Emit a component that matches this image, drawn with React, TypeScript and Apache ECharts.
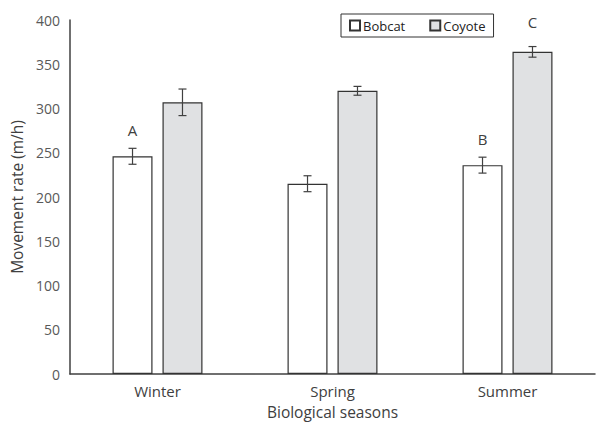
import React, { useEffect, useRef } from "react";
import * as echarts from "echarts";

const categories = ["Winter", "Spring", "Summer"];
const bobcat = [246, 215, 236];
const coyote = [307, 320, 364];
const bobcatErr = [9, 9, 9];
const coyoteErr = [15, 5, 6];
const bobcatLetters = ["A", "", "B"];
const coyoteLetters = ["", "", "C"];

const FONT = "Open Sans";
const GAP_CAT = 0.486;
const GAP_BAR = 0.25;

function errSeries(name: string, values: number[], errs: number[], letters: string[], side: number, letterGap: number) {
  return {
    type: "custom",
    name: name + "-err",
    silent: true,
    z: 5,
    data: values.map((v, i) => [i, v, errs[i]]),
    renderItem: (params: any, api: any) => {
      const i = api.value(0);
      const v = api.value(1);
      const e = api.value(2);
      const letter = letters[i];
      const band = api.size([1, 0])[0];
      const w = (band * (1 - GAP_CAT)) / (2 + GAP_BAR);
      const off = side * (w * (1 + GAP_BAR)) / 2;
      const c = api.coord([i, v]);
      const x = c[0] + off;
      const top = api.coord([i, v + e])[1];
      const bot = api.coord([i, v - e])[1];
      const st = { stroke: "#404040", lineWidth: 1.2 };
      const children: any[] = [
        { type: "line", shape: { x1: x, y1: top, x2: x, y2: bot }, style: st },
        { type: "line", shape: { x1: x - 4, y1: top, x2: x + 4, y2: top }, style: st },
        { type: "line", shape: { x1: x - 4, y1: bot, x2: x + 4, y2: bot }, style: st },
      ];
      if (letter) {
        children.push({
          type: "text",
          style: {
            text: letter,
            x: x,
            y: top - letterGap,
            align: "center",
            verticalAlign: "middle",
            fill: "#404040",
            font: `15px "${FONT}"`,
          },
        });
      }
      return { type: "group", children };
    },
  };
}

export default function App() {
  const ref = useRef<HTMLDivElement>(null);
  useEffect(() => {
    if (!ref.current) return;
    document.body.style.margin = "0";
    const chart = echarts.init(ref.current, null, { renderer: "svg" });
    chart.setOption({
      animation: false,
      textStyle: { fontFamily: FONT },
      grid: { left: 70, right: 2, top: 20, bottom: 48, containLabel: false, outerBoundsMode: "none" },
      legend: {
        left: 341,
        top: 14,
        width: 152,
        padding: [5, 8, 5, 8],
        itemGap: 24,
        itemWidth: 10,
        itemHeight: 10,
        icon: "rect",
        borderColor: "#333",
        borderWidth: 1,
        textStyle: { fontFamily: FONT, fontSize: 13, color: "#222", padding: [0, 0, 0, -2] },
        data: ["Bobcat", "Coyote"],
      },
      xAxis: {
        type: "category",
        data: categories,
        name: "Biological seasons",
        nameLocation: "middle",
        nameGap: 30,
        nameTextStyle: { fontFamily: FONT, fontSize: 15.5, color: "#404040" },
        axisLine: { lineStyle: { color: "#404040", width: 1.5 } },
        axisTick: { show: false },
        axisLabel: { fontFamily: FONT, fontSize: 15, color: "#404040", margin: 9 },
      },
      yAxis: {
        type: "value",
        min: 0,
        max: 400,
        interval: 50,
        name: "Movement rate (m/h)",
        nameLocation: "middle",
        nameGap: 44,
        nameTextStyle: { fontFamily: FONT, fontSize: 15.5, color: "#404040" },
        axisLine: { show: true, lineStyle: { color: "#404040", width: 1.5 } },
        axisTick: { show: false },
        splitLine: { show: false },
        axisLabel: { fontFamily: FONT, fontSize: 14, color: "#595959", margin: 10 },
      },
      series: [
        {
          type: "bar",
          name: "Bobcat",
          data: bobcat,
          barCategoryGap: GAP_CAT * 100 + "%",
          barGap: GAP_BAR * 100 + "%",
          itemStyle: { color: "#ffffff", borderColor: "#333333", borderWidth: 1.2 },
        },
        {
          type: "bar",
          name: "Coyote",
          data: coyote,
          barCategoryGap: GAP_CAT * 100 + "%",
          barGap: GAP_BAR * 100 + "%",
          itemStyle: { color: "#e0e1e3", borderColor: "#333333", borderWidth: 1.2 },
        },
        errSeries("Bobcat", bobcat, bobcatErr, bobcatLetters, -1, 18),
        errSeries("Coyote", coyote, coyoteErr, coyoteLetters, 1, 25),
      ],
    });
    return () => chart.dispose();
  }, []);
  return <div ref={ref} style={{ width: 597, height: 422 }} />;
}
